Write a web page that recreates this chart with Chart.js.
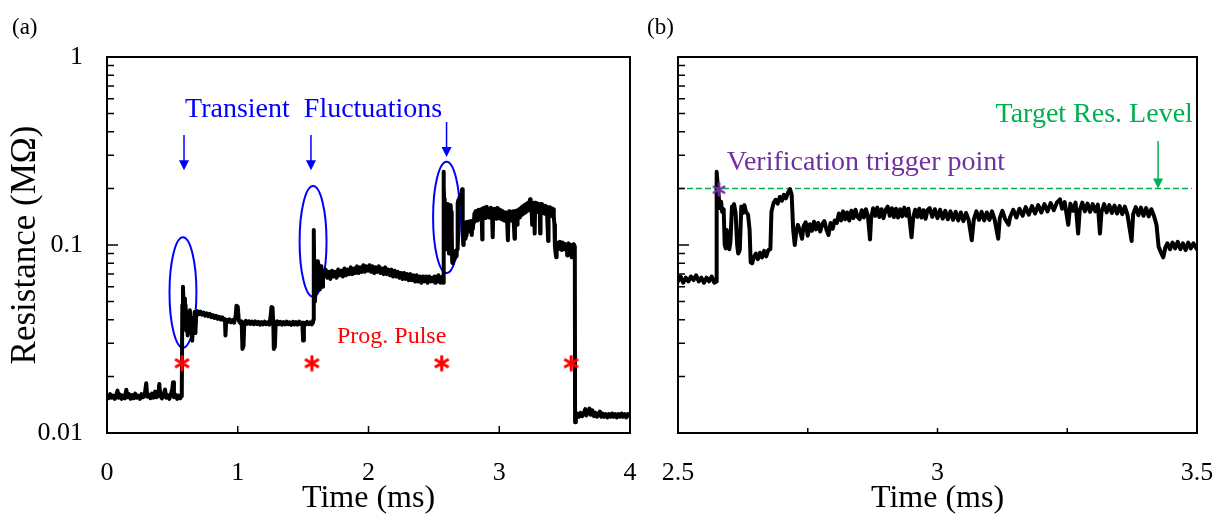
<!DOCTYPE html>
<html>
<head>
<meta charset="utf-8">
<title>Resistance vs time</title>
<script src="https://cdn.jsdelivr.net/npm/chart.js@4.4.1/dist/chart.umd.min.js"></script>
<style>
  html, body { margin: 0; padding: 0; background: #fff; }
  #wrap { position: relative; width: 1220px; height: 514px; }
  #chartA { position: absolute; left: 0; top: 0; }
  #chartB { position: absolute; left: 640px; top: 0; }
</style>
</head>
<body>
<div id="wrap">
  <canvas id="chartA" width="640" height="514" style="width:640px;height:514px"></canvas>
  <canvas id="chartB" width="580" height="514" style="width:580px;height:514px"></canvas>
</div>
<script>
// Resistance trace [time ms, resistance MΩ], one block per programming step
const stepInitial = [
  [0.000, 0.0159], [0.012, 0.0153], [0.024, 0.0161], [0.036, 0.0154], [0.048, 0.0158], [0.060, 0.0152],
  [0.072, 0.0160], [0.080, 0.0168], [0.088, 0.0154], [0.100, 0.0160], [0.112, 0.0152], [0.124, 0.0158],
  [0.136, 0.0153], [0.148, 0.0170], [0.156, 0.0155], [0.168, 0.0161], [0.180, 0.0152], [0.192, 0.0159],
  [0.204, 0.0153], [0.216, 0.0162], [0.228, 0.0154], [0.240, 0.0158], [0.252, 0.0152], [0.264, 0.0161],
  [0.276, 0.0155], [0.288, 0.0159], [0.300, 0.0184], [0.308, 0.0156], [0.320, 0.0160], [0.332, 0.0153],
  [0.344, 0.0162], [0.356, 0.0154], [0.368, 0.0166], [0.380, 0.0155], [0.392, 0.0160], [0.400, 0.0182],
  [0.408, 0.0157], [0.420, 0.0153], [0.432, 0.0161], [0.444, 0.0170], [0.452, 0.0154], [0.464, 0.0159],
  [0.476, 0.0152], [0.488, 0.0160], [0.500, 0.0172], [0.505, 0.0186], [0.512, 0.0155], [0.524, 0.0160],
  [0.536, 0.0152], [0.548, 0.0158], [0.560, 0.0153], [0.568, 0.0157]
];
const stepPulse1 = [
  [0.572, 0.0158], [0.576, 0.048], [0.581, 0.060], [0.586, 0.047], [0.591, 0.052], [0.596, 0.038],
  [0.601, 0.048], [0.606, 0.035], [0.611, 0.044], [0.617, 0.033], [0.622, 0.042], [0.628, 0.036],
  [0.634, 0.045], [0.640, 0.034], [0.646, 0.041], [0.652, 0.031], [0.658, 0.040], [0.664, 0.036],
  [0.670, 0.044], [0.676, 0.034], [0.682, 0.042], [0.690, 0.0445], [0.702, 0.0428], [0.714, 0.0442],
  [0.726, 0.0426], [0.738, 0.0437], [0.750, 0.0421], [0.762, 0.0433], [0.774, 0.0418], [0.786, 0.0430],
  [0.798, 0.0413], [0.810, 0.0424], [0.822, 0.0409], [0.834, 0.0420], [0.846, 0.0405], [0.858, 0.0415],
  [0.870, 0.0401], [0.882, 0.0412], [0.894, 0.0398], [0.902, 0.0404], [0.906, 0.0330], [0.912, 0.0400],
  [0.924, 0.0390], [0.936, 0.0402], [0.948, 0.0388], [0.960, 0.0398], [0.972, 0.0386], [0.984, 0.0420],
  [0.990, 0.0475], [1.000, 0.0470], [1.008, 0.0396], [1.020, 0.0384], [1.030, 0.0392], [1.036, 0.0280],
  [1.044, 0.0290], [1.050, 0.0386], [1.062, 0.0395], [1.074, 0.0381], [1.086, 0.0393], [1.098, 0.0380],
  [1.110, 0.0391], [1.122, 0.0379], [1.134, 0.0392], [1.146, 0.0380], [1.158, 0.0390], [1.170, 0.0377],
  [1.182, 0.0389], [1.194, 0.0378], [1.206, 0.0391], [1.218, 0.0379], [1.230, 0.0388], [1.242, 0.0377],
  [1.252, 0.0420], [1.258, 0.0468], [1.266, 0.0465], [1.272, 0.0383], [1.276, 0.0280], [1.284, 0.0288],
  [1.290, 0.0384], [1.302, 0.0393], [1.314, 0.0379], [1.326, 0.0390], [1.338, 0.0377], [1.350, 0.0389],
  [1.362, 0.0378], [1.374, 0.0391], [1.386, 0.0379], [1.398, 0.0388], [1.410, 0.0376], [1.422, 0.0390],
  [1.434, 0.0378], [1.446, 0.0389], [1.458, 0.0377], [1.470, 0.0391], [1.482, 0.0379], [1.494, 0.0387],
  [1.500, 0.0310], [1.506, 0.0386], [1.518, 0.0378], [1.530, 0.0390], [1.542, 0.0379], [1.554, 0.0388],
  [1.566, 0.0378], [1.575, 0.0386]
];
const stepPulse2 = [
  [1.578, 0.040], [1.580, 0.052], [1.583, 0.120], [1.586, 0.060], [1.590, 0.050], [1.594, 0.056],
  [1.598, 0.078], [1.603, 0.068], [1.608, 0.082], [1.613, 0.062], [1.618, 0.079], [1.623, 0.058],
  [1.628, 0.075], [1.634, 0.066], [1.640, 0.077], [1.646, 0.060], [1.652, 0.072], [1.660, 0.069],
  [1.672, 0.074], [1.684, 0.067], [1.696, 0.072], [1.708, 0.066], [1.720, 0.073], [1.732, 0.068],
  [1.744, 0.072], [1.756, 0.067], [1.768, 0.074], [1.780, 0.069], [1.792, 0.073], [1.804, 0.068],
  [1.816, 0.075], [1.828, 0.069], [1.840, 0.074], [1.852, 0.070], [1.864, 0.076], [1.876, 0.070],
  [1.888, 0.075], [1.900, 0.071], [1.912, 0.077], [1.924, 0.071], [1.936, 0.076], [1.948, 0.072],
  [1.960, 0.078], [1.972, 0.072], [1.984, 0.077], [1.996, 0.073], [2.008, 0.078], [2.020, 0.072],
  [2.032, 0.077], [2.044, 0.071], [2.056, 0.076], [2.068, 0.072], [2.080, 0.077], [2.092, 0.071],
  [2.104, 0.075], [2.116, 0.070], [2.128, 0.076], [2.140, 0.070], [2.152, 0.074], [2.164, 0.069],
  [2.176, 0.074], [2.188, 0.068], [2.200, 0.073], [2.212, 0.068], [2.224, 0.072], [2.236, 0.067],
  [2.248, 0.071], [2.260, 0.066], [2.272, 0.071], [2.284, 0.066], [2.296, 0.070], [2.308, 0.065],
  [2.320, 0.070], [2.332, 0.065], [2.344, 0.069], [2.356, 0.064], [2.368, 0.069], [2.380, 0.064],
  [2.392, 0.068], [2.404, 0.063], [2.416, 0.068], [2.428, 0.064], [2.440, 0.068], [2.452, 0.063],
  [2.464, 0.068], [2.476, 0.064], [2.488, 0.067], [2.500, 0.064], [2.505, 0.068], [2.510, 0.063],
  [2.515, 0.067], [2.520, 0.064], [2.525, 0.068], [2.530, 0.065], [2.535, 0.069], [2.540, 0.064],
  [2.545, 0.067], [2.550, 0.063], [2.555, 0.067], [2.560, 0.064], [2.565, 0.068], [2.570, 0.063]
];
const stepPulse3 = [
  [2.5740, 0.064], [2.5745, 0.245], [2.5770, 0.200], [2.5790, 0.175], [2.5810, 0.157], [2.5830, 0.170],
  [2.5850, 0.150], [2.5880, 0.155], [2.5900, 0.100], [2.5920, 0.096], [2.5940, 0.120], [2.5960, 0.098],
  [2.5990, 0.095], [2.6010, 0.104], [2.6040, 0.160], [2.6060, 0.150], [2.6080, 0.165], [2.6110, 0.148],
  [2.6140, 0.100], [2.6160, 0.090], [2.6190, 0.094], [2.6220, 0.160], [2.6250, 0.148], [2.6280, 0.163],
  [2.6310, 0.150], [2.6350, 0.145], [2.6380, 0.120], [2.6400, 0.081], [2.6430, 0.080], [2.6460, 0.086],
  [2.6500, 0.090], [2.6540, 0.084], [2.6580, 0.091], [2.6620, 0.086], [2.6660, 0.093], [2.6700, 0.087],
  [2.6740, 0.094], [2.6780, 0.095], [2.6800, 0.150], [2.6840, 0.167], [2.6880, 0.174], [2.6920, 0.166],
  [2.6960, 0.180], [2.7000, 0.172], [2.7040, 0.185], [2.7080, 0.177], [2.7120, 0.190], [2.7160, 0.198],
  [2.7190, 0.185], [2.7220, 0.120], [2.7250, 0.100], [2.7280, 0.118], [2.7310, 0.128], [2.7350, 0.119],
  [2.7390, 0.108], [2.7420, 0.126], [2.7460, 0.132], [2.7500, 0.112], [2.7540, 0.129], [2.7580, 0.119],
  [2.7620, 0.133], [2.7660, 0.121], [2.7700, 0.131], [2.7740, 0.118], [2.7780, 0.129], [2.7820, 0.134],
  [2.7860, 0.121], [2.7900, 0.113], [2.7940, 0.131], [2.7980, 0.122], [2.8020, 0.135], [2.8060, 0.131],
  [2.8100, 0.147], [2.8140, 0.135], [2.8180, 0.151], [2.8220, 0.137], [2.8260, 0.149], [2.8300, 0.135],
  [2.8340, 0.152], [2.8380, 0.139], [2.8420, 0.154], [2.8460, 0.141], [2.8500, 0.137], [2.8540, 0.153],
  [2.8580, 0.140], [2.8620, 0.155], [2.8660, 0.142], [2.8700, 0.107], [2.8720, 0.138], [2.8760, 0.157],
  [2.8800, 0.143], [2.8840, 0.158], [2.8880, 0.141], [2.8920, 0.155], [2.8960, 0.139], [2.9000, 0.154],
  [2.9040, 0.160], [2.9080, 0.143], [2.9120, 0.157], [2.9160, 0.141], [2.9200, 0.156], [2.9240, 0.140],
  [2.9280, 0.155], [2.9320, 0.142], [2.9360, 0.158], [2.9400, 0.143], [2.9440, 0.156], [2.9500, 0.110],
  [2.9530, 0.139], [2.9570, 0.154], [2.9610, 0.141], [2.9650, 0.156], [2.9690, 0.140], [2.9730, 0.153],
  [2.9770, 0.138], [2.9810, 0.154], [2.9850, 0.157], [2.9900, 0.141], [2.9950, 0.155], [3.0000, 0.139],
  [3.0050, 0.154], [3.0100, 0.138], [3.0150, 0.152], [3.0200, 0.137], [3.0250, 0.151], [3.0300, 0.136],
  [3.0350, 0.150], [3.0400, 0.135], [3.0450, 0.149], [3.0500, 0.134], [3.0550, 0.148], [3.0600, 0.136],
  [3.0660, 0.106], [3.0700, 0.137], [3.0750, 0.151], [3.0800, 0.136], [3.0850, 0.150], [3.0900, 0.135],
  [3.0950, 0.149], [3.1000, 0.136], [3.1050, 0.151], [3.1100, 0.137], [3.1170, 0.108], [3.1200, 0.139],
  [3.1250, 0.152], [3.1300, 0.138], [3.1370, 0.128], [3.1400, 0.141], [3.1460, 0.154], [3.1520, 0.140],
  [3.1580, 0.156], [3.1640, 0.143], [3.1700, 0.159], [3.1760, 0.145], [3.1820, 0.161], [3.1880, 0.147],
  [3.1940, 0.163], [3.2000, 0.149], [3.2060, 0.165], [3.2120, 0.151], [3.2180, 0.167], [3.2240, 0.153],
  [3.2300, 0.168], [3.2360, 0.175], [3.2400, 0.156], [3.2450, 0.169], [3.2520, 0.128], [3.2560, 0.166],
  [3.2610, 0.152], [3.2660, 0.168], [3.2710, 0.115], [3.2740, 0.153], [3.2790, 0.168], [3.2840, 0.151],
  [3.2890, 0.166], [3.2940, 0.150], [3.2990, 0.165], [3.3040, 0.151], [3.3090, 0.164], [3.3130, 0.115],
  [3.3160, 0.150], [3.3210, 0.165], [3.3260, 0.149], [3.3310, 0.163], [3.3360, 0.148], [3.3410, 0.162],
  [3.3460, 0.147], [3.3510, 0.161], [3.3560, 0.146], [3.3610, 0.160], [3.3660, 0.145], [3.3740, 0.105],
  [3.3770, 0.146], [3.3820, 0.159], [3.3870, 0.144], [3.3920, 0.158], [3.3970, 0.143], [3.4020, 0.157],
  [3.4070, 0.142], [3.4120, 0.155], [3.4170, 0.143], [3.4220, 0.128], [3.4260, 0.098], [3.4300, 0.092],
  [3.4350, 0.086], [3.4390, 0.097], [3.4430, 0.102], [3.4480, 0.095], [3.4530, 0.103], [3.4580, 0.096],
  [3.4630, 0.104], [3.4680, 0.095], [3.4730, 0.102], [3.4780, 0.094], [3.4830, 0.103], [3.4880, 0.096],
  [3.4930, 0.102], [3.5000, 0.095], [3.505, 0.101], [3.510, 0.096], [3.515, 0.099], [3.520, 0.088],
  [3.525, 0.098], [3.530, 0.102], [3.540, 0.097], [3.550, 0.100], [3.555, 0.086], [3.560, 0.099],
  [3.570, 0.101], [3.578, 0.098]
];
const stepReset = [
  [3.580, 0.0114], [3.586, 0.0121], [3.598, 0.0127], [3.610, 0.0122], [3.622, 0.0128], [3.634, 0.0123],
  [3.646, 0.0127], [3.658, 0.0134], [3.666, 0.0124], [3.678, 0.0129], [3.690, 0.0135], [3.700, 0.0125],
  [3.712, 0.0132], [3.724, 0.0123], [3.736, 0.0128], [3.748, 0.0122], [3.760, 0.0127], [3.770, 0.0130],
  [3.780, 0.0122], [3.792, 0.0127], [3.804, 0.0122], [3.816, 0.0126], [3.828, 0.0121], [3.840, 0.0126],
  [3.852, 0.0122], [3.864, 0.0127], [3.876, 0.0122], [3.888, 0.0126], [3.900, 0.0121], [3.912, 0.0126],
  [3.924, 0.0122], [3.936, 0.0127], [3.948, 0.0122], [3.960, 0.0126], [3.972, 0.0121], [3.984, 0.0126],
  [4.000, 0.0123]
];

// programming pulses and verification
const pulseTimes = [0.574, 1.567, 2.56, 3.55];
const pulseMarkLevel = 0.0235;
const triggerPoint = [2.579, 0.197];
const targetLevel = 0.2;
const targetSpan = [2.5, 3.49];

// transient fluctuation windows (centre time, high / low resistance)
const fluctCentres = [0.581, 1.576, 2.597];
const fluctHigh = [0.110, 0.206, 0.277];
const fluctLow = [0.0284, 0.053, 0.071];
const fluctHalfWidth = 0.103;
const fluctArrowTimes = [0.589, 1.560, 2.597];
const fluctArrowFrom = [0.385, 0.385, 0.451];
const fluctArrowTo = [0.25, 0.25, 0.294];

// axis ticks
const resTicks = [0.01, 0.02, 0.03, 0.04, 0.05, 0.06, 0.07, 0.08, 0.09,
                  0.1, 0.2, 0.3, 0.4, 0.5, 0.6, 0.7, 0.8, 0.9, 1];
const resDecades = [0.01, 0.1, 1];
const resDecadeLabels = ['0.01', '0.1', '1'];
const timeTicksA = [0, 1, 2, 3, 4];
const timeTicksB = [2.5, 2.75, 3, 3.25, 3.5];
const timeLabelledB = [2.5, 3, 3.5];

const trace = [...stepInitial, ...stepPulse1, ...stepPulse2, ...stepPulse3, ...stepReset];

const SERIF = '"Liberation Serif", "Times New Roman", Times, serif';
const BLUE = '#0000ff', RED = '#ff0000', GREEN = '#00b050', PURPLE = '#7030a0';

function asteriskSprite(color, size, lw) {
  const c = document.createElement('canvas');
  c.width = c.height = size;
  const g = c.getContext('2d');
  g.strokeStyle = color;
  g.lineWidth = lw;
  g.translate(size / 2, size / 2);
  const r = size / 2 - 0.5;
  for (let k = 0; k < 3; k++) {
    const a = Math.PI / 2 + k * Math.PI / 3;
    g.beginPath();
    g.moveTo(Math.cos(a) * r, Math.sin(a) * r);
    g.lineTo(-Math.cos(a) * r, -Math.sin(a) * r);
    g.stroke();
  }
  return c;
}

function yAxis(withLabels, width) {
  return {
    type: 'logarithmic',
    min: 0.01,
    max: 1,
    grid: { display: false, drawTicks: false },
    border: { display: false },
    afterBuildTicks: s => { s.ticks = resTicks.map(v => ({ value: v })); },
    afterFit: s => {
      s.width = width;
      s.paddingTop = 0;
      s.paddingBottom = 0;
    },
    ticks: {
      display: withLabels,
      autoSkip: false,
      padding: 24,
      color: '#000',
      font: { family: SERIF, size: 26 },
      callback: v => {
        const i = resDecades.indexOf(v);
        return i >= 0 ? resDecadeLabels[i] : '';
      }
    }
  };
}

function xAxis(min, max, tickValues, labelled, title) {
  return {
    type: 'linear',
    min: min,
    max: max,
    grid: { display: false, drawTicks: false },
    border: { display: false },
    afterBuildTicks: s => { s.ticks = tickValues.map(v => ({ value: v })); },
    afterFit: s => {
      s.height = 81;
      s.paddingLeft = 0;
      s.paddingRight = 0;
    },
    ticks: {
      autoSkip: false,
      maxRotation: 0,
      padding: 25,
      color: '#000',
      font: { family: SERIF, size: 26 },
      callback: v => labelled.includes(v) ? String(v) : ''
    },
    title: {
      display: true,
      text: title,
      color: '#000',
      font: { family: SERIF, size: 32, lineHeight: 1 },
      padding: { top: 0, bottom: -1 }
    }
  };
}

// frame around the plot area with inward tick marks
function boxAndTicks(xTickLength) {
  return {
    id: 'boxAndTicks',
    afterDatasetsDraw(chart) {
      const { ctx, chartArea: a } = chart;
      const x = chart.scales.x, y = chart.scales.y;
      ctx.save();
      ctx.strokeStyle = '#000';
      ctx.lineWidth = 1.5;
      ctx.beginPath();
      for (const t of y.ticks) {
        if (t.value <= y.min || t.value >= y.max) continue;
        const py = y.getPixelForValue(t.value);
        const len = resDecades.includes(t.value) ? 11 : 7;
        ctx.moveTo(a.left, py);
        ctx.lineTo(a.left + len, py);
      }
      for (const t of x.ticks) {
        if (t.value <= x.min || t.value >= x.max) continue;
        const px = x.getPixelForValue(t.value);
        ctx.moveTo(px, a.bottom);
        ctx.lineTo(px, a.bottom - xTickLength);
      }
      ctx.stroke();
      ctx.lineWidth = 2;
      ctx.strokeRect(a.left, a.top, a.right - a.left, a.bottom - a.top);
      ctx.restore();
    }
  };
}

function drawArrow(ctx, px, y0, y1, color) {
  ctx.save();
  ctx.strokeStyle = color;
  ctx.fillStyle = color;
  ctx.lineWidth = 1.5;
  ctx.beginPath();
  ctx.moveTo(px, y0);
  ctx.lineTo(px, y1 - 9);
  ctx.stroke();
  ctx.beginPath();
  ctx.moveTo(px - 5, y1 - 10);
  ctx.lineTo(px + 5, y1 - 10);
  ctx.lineTo(px, y1);
  ctx.closePath();
  ctx.fill();
  ctx.restore();
}

// ellipses, arrows and text callouts placed in data units
function callouts(spec) {
  return {
    id: 'callouts',
    beforeDatasetsDraw(chart) {
      const { ctx } = chart;
      const x = chart.scales.x, y = chart.scales.y;
      (spec.ellipses || []).forEach(e => {
        const cx = x.getPixelForValue(e.t);
        const rx = x.getPixelForValue(e.t + e.halfWidth) - cx;
        const top = y.getPixelForValue(e.high);
        const bot = y.getPixelForValue(e.low);
        ctx.save();
        ctx.strokeStyle = e.color;
        ctx.lineWidth = 2;
        ctx.beginPath();
        ctx.ellipse(cx, (top + bot) / 2, rx, (bot - top) / 2, 0, 0, Math.PI * 2);
        ctx.stroke();
        ctx.restore();
      });
    },
    afterDatasetsDraw(chart) {
      const { ctx } = chart;
      const x = chart.scales.x, y = chart.scales.y;
      (spec.arrows || []).forEach(r => {
        drawArrow(ctx, x.getPixelForValue(r.t), y.getPixelForValue(r.from), y.getPixelForValue(r.to), r.color);
      });
      (spec.labels || []).forEach(l => {
        ctx.save();
        ctx.fillStyle = l.color;
        ctx.font = l.size + 'px ' + SERIF;
        ctx.textAlign = l.align || 'left';
        ctx.textBaseline = 'alphabetic';
        ctx.fillText(l.text, x.getPixelForValue(l.t), y.getPixelForValue(l.v));
        ctx.restore();
      });
      if (spec.tag) {
        ctx.save();
        ctx.fillStyle = '#000';
        ctx.font = '23px ' + SERIF;
        ctx.textAlign = 'left';
        ctx.textBaseline = 'middle';
        ctx.fillText(spec.tag.text, spec.tag.x, spec.tag.y);
        ctx.restore();
      }
    }
  };
}

const traceStyle = {
  borderColor: '#000',
  borderWidth: 4,
  borderJoinStyle: 'round',
  borderCapStyle: 'round',
  pointRadius: 0,
  tension: 0,
  order: 1
};

const common = {
  responsive: false,
  animation: false,
  events: [],
  plugins: { legend: { display: false }, tooltip: { enabled: false } }
};

// (a) full programming sequence
const yA = yAxis(true, 107);
yA.title = {
  display: true,
  text: 'Resistance (MΩ)',
  color: '#000',
  font: { family: SERIF, size: 35, lineHeight: 1 },
  padding: { top: 8, bottom: 0 }
};

new Chart(document.getElementById('chartA'), {
  type: 'line',
  data: {
    datasets: [
      Object.assign({ data: trace }, traceStyle),
      {
        data: pulseTimes.map(t => [t, pulseMarkLevel]),
        showLine: false,
        pointStyle: asteriskSprite(RED, 17, 3),
        pointRadius: 8,
        order: 0
      }
    ]
  },
  options: Object.assign({}, common, {
    layout: { padding: { top: 57, right: 10, left: 0, bottom: 0 } },
    scales: { x: xAxis(0, 4, timeTicksA, timeTicksA, 'Time (ms)'), y: yA }
  }),
  plugins: [
    boxAndTicks(7),
    callouts({
      ellipses: fluctCentres.map((t, i) => ({
        t: t, halfWidth: fluctHalfWidth, high: fluctHigh[i], low: fluctLow[i], color: BLUE
      })),
      arrows: fluctArrowTimes.map((t, i) => ({
        t: t, from: fluctArrowFrom[i], to: fluctArrowTo[i], color: BLUE
      })),
      labels: [
        { text: 'Transient  Fluctuations', t: 0.597, v: 0.479, color: BLUE, size: 28 },
        { text: 'Prog. Pulse', t: 1.759, v: 0.030, color: RED, size: 24 }
      ],
      tag: { text: '(a)', x: 12, y: 28 }
    })
  ]
});

// (b) zoom on the third pulse and verification
new Chart(document.getElementById('chartB'), {
  type: 'line',
  data: {
    datasets: [
      Object.assign({ data: trace }, traceStyle),
      {
        data: targetSpan.map(t => [t, targetLevel]),
        borderColor: GREEN,
        borderWidth: 1.5,
        borderDash: [6, 3],
        pointRadius: 0,
        order: 2
      },
      {
        data: [triggerPoint],
        showLine: false,
        pointStyle: asteriskSprite(PURPLE, 15, 2.5),
        pointRadius: 7,
        order: 0
      }
    ]
  },
  options: Object.assign({}, common, {
    layout: { padding: { top: 57, right: 23, left: 0, bottom: 0 } },
    scales: { x: xAxis(2.5, 3.5, timeTicksB, timeLabelledB, 'Time (ms)'), y: yAxis(false, 38) }
  }),
  plugins: [
    boxAndTicks(5),
    callouts({
      arrows: [{ t: 3.425, from: 0.357, to: targetLevel, color: GREEN }],
      labels: [
        { text: 'Verification trigger point', t: 2.594, v: 0.2502, color: PURPLE, size: 28 },
        { text: 'Target Res. Level', t: 3.492, v: 0.451, color: GREEN, size: 28, align: 'right' }
      ],
      tag: { text: '(b)', x: 7, y: 28 }
    })
  ]
});
</script>
</body>
</html>
